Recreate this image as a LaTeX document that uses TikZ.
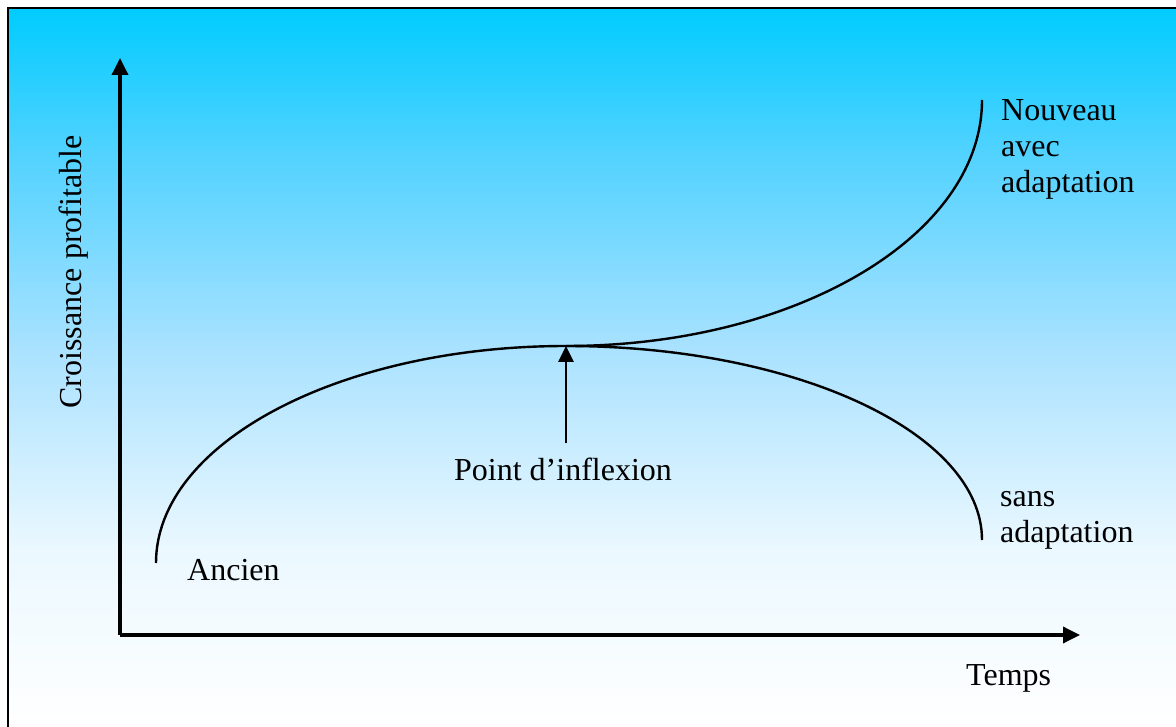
\documentclass[tikz,border=0pt]{standalone}
\usepackage{fontspec}
\setmainfont{Liberation Serif}
\usetikzlibrary{arrows.meta}
\pgfdeclareverticalshading{bgshade}{100bp}{%
  color(0bp)=(white);
  color(25bp)=(white);
  color(37.3bp)=(rgb,255:red,235;green,248;blue,255);
  color(51.2bp)=(rgb,255:red,170;green,226;blue,255);
  color(65.1bp)=(rgb,255:red,80;green,210;blue,255);
  color(75bp)=(rgb,255:red,0;green,204;blue,255);
  color(100bp)=(rgb,255:red,0;green,204;blue,255)}
\tikzset{
  axis/.style={line width=3.5pt,-{Triangle[width=16pt,length=17pt]}},
  curve/.style={line width=2.4pt},
  lbl/.style={font=\fontsize{32}{36}\selectfont, inner sep=0pt},
}
\begin{document}
\begin{tikzpicture}[x=1pt,y=-1pt]
\useasboundingbox (0,0) rectangle (1176,727);
\fill[white] (0,0) rectangle (1176,727);
\shade[shading=bgshade] (8,8) rectangle (1176,727);
\draw[line width=2.5pt] (8,740) -- (8,8) -- (1190,8);
% axes
\coordinate (O) at (120,635);
\coordinate (ytip) at (120,58);
\coordinate (xtip) at (1080,635);
\draw[axis] (O) -- (ytip);
\draw[axis] (O) -- (xtip);
% curves
\coordinate (start) at (156,563);
\coordinate (peak) at (566,346);
\coordinate (down) at (982,540);
\coordinate (up) at (982,100);
\draw[curve] (start) arc[start angle=180, end angle=90, x radius=410, y radius=-217];
\draw[curve] (peak) arc[start angle=90, end angle=0, x radius=416, y radius=-194];
\draw[curve] (peak) arc[start angle=270, end angle=360, x radius=416, y radius=-246];
% inflexion arrow
\coordinate (abase) at (566,443);
\draw[line width=2.8pt,-{Triangle[width=15pt,length=16pt]}] (abase) -- (peak);
% labels
\node[lbl, anchor=base] (pi) at (563,480) {Point d’inflexion};
\node[lbl, anchor=base west] (anc) at (187,580) {Ancien};
\node[lbl, anchor=base west, align=left] (sans) at (1000,542) {sans\\adaptation};
\node[lbl, anchor=base west, align=left] (nouv) at (1001,193) {Nouveau\\avec\\adaptation};
\node[lbl, anchor=base west] (temps) at (966,685) {Temps};
\node[lbl, rotate=90, anchor=base] (yl) at (81,272) {Croissance profitable};
\end{tikzpicture}
\end{document}
